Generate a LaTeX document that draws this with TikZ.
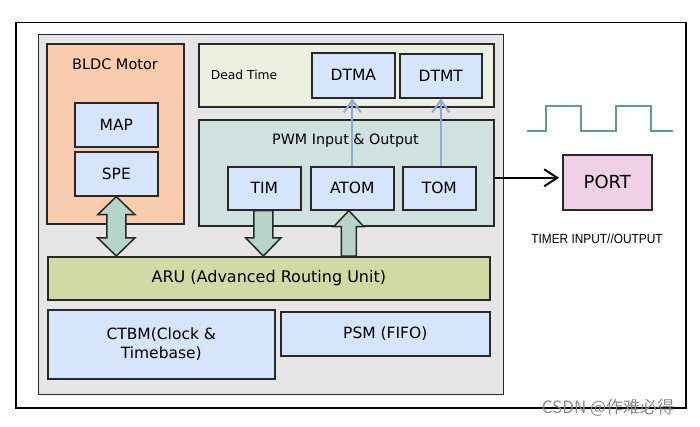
\documentclass[tikz,border=0pt]{standalone}
\usepackage{fontspec}
\setmainfont{DejaVu Sans}
\newfontfamily\arialfont{Liberation Sans}
\newfontfamily\cjkfont{Noto Sans CJK SC}
\usetikzlibrary{arrows.meta,calc}
\definecolor{panelc}{RGB}{230,230,230}
\definecolor{peachc}{RGB}{248,204,173}
\definecolor{deadc}{RGB}{236,240,224}
\definecolor{pwmc}{RGB}{208,226,221}
\definecolor{bluec}{RGB}{212,229,252}
\definecolor{aruc}{RGB}{210,218,164}
\definecolor{portc}{RGB}{240,208,228}
\definecolor{arrowc}{RGB}{182,212,200}
\definecolor{thinbluec}{RGB}{142,170,219}
\definecolor{wavec}{RGB}{94,158,134}
\definecolor{linec}{RGB}{40,40,40}
\begin{document}
\begin{tikzpicture}[x=1pt,y=-1pt,
  cbox/.style={draw=linec, line width=1.6pt, inner sep=0pt, anchor=north west},
  bluebox/.style={cbox, fill=bluec, font=\fontsize{15.5}{19}\selectfont},
  blockarrow/.style={draw=linec, line width=1.5pt, fill=arrowc, line join=miter},
  thinarrow/.style={draw=thinbluec, line width=2pt, -{Straight Barb[length=12pt,width=17pt,line width=2pt]}},
  blackarrow/.style={draw=black, line width=2pt, -{Straight Barb[length=13pt,width=17pt,line width=2pt]}},
  wave/.style={draw=wavec, line width=2pt}]
\useasboundingbox (0,0) rectangle (700,427);
\fill[white] (0,0) rectangle (700,427);
% containers
\node[cbox, draw=black, line width=1.5pt, fill=white, minimum width=670, minimum height=385] (frame) at (15,22) {};
\node[cbox, line width=1.3pt, fill=panelc, minimum width=465, minimum height=360] (panel) at (38,34) {};
\node[cbox, fill=peachc, minimum width=137, minimum height=180] (bldc) at (46,43) {};
\node[font=\fontsize{14.5}{17}\selectfont] (bldclabel) at (115,64) {BLDC Motor};
\node[cbox, fill=deadc, minimum width=295, minimum height=63] (dead) at (198,43) {};
\node[font=\fontsize{12.3}{15}\selectfont] (deadlabel) at (244,75) {Dead Time};
\node[cbox, fill=pwmc, minimum width=295, minimum height=106] (pwm) at (198,119) {};
\node[font=\fontsize{14.3}{17}\selectfont] (pwmlabel) at (345.5,141) {PWM Input \& Output};
% inner boxes
\node[bluebox, minimum width=83, minimum height=44] (map) at (74,102) {MAP};
\node[bluebox, minimum width=83, minimum height=44] (spe) at (74,151) {SPE};
\node[bluebox, minimum width=83, minimum height=45] (dtma) at (311,52) {DTMA};
\node[bluebox, minimum width=82, minimum height=44] (dtmt) at (399,53) {DTMT};
\node[bluebox, minimum width=73, minimum height=43] (tim) at (227,166) {TIM};
\node[bluebox, minimum width=83, minimum height=43] (atom) at (310,166) {ATOM};
\node[bluebox, minimum width=73, minimum height=43] (tom) at (402,166) {TOM};
\node[cbox, fill=aruc, minimum width=442, minimum height=43, font=\fontsize{16}{19}\selectfont] (aru) at (47,256) {ARU (Advanced Routing Unit)};
\node[bluebox, minimum width=227, minimum height=69, align=center, font=\fontsize{15.5}{19}\selectfont] (ctbm) at (47,309) {CTBM(Clock \&\\Timebase)};
\node[bluebox, minimum width=209, minimum height=44] (psm) at (280,311) {PSM (FIFO)};
\node[cbox, fill=portc, minimum width=89, minimum height=55, font=\fontsize{18}{21}\selectfont] (port) at (562,154) {PORT};
\node[font=\arialfont\fontsize{13.2}{15}\selectfont] (timerlabel) at (597,239) {\scalebox{0.9}[1]{TIMER INPUT//OUTPUT}};
% block arrows
\draw[blockarrow] (spe.south) -- ++(18.5,18) -- ++(-9,0)
  -- ($(spe.south|-aru.north)+(9.5,-18)$) -- ++(9,0) -- (spe.south|-aru.north)
  -- ++(-18.5,-18) -- ++(9,0) -- ($(spe.south)+(-9.5,18)$) -- ++(-9,0) -- cycle;
\coordinate (timx) at ($(tim.south)+(-1,0)$);
\draw[blockarrow] ($(timx)+(-9.5,0)$) -- ($(timx)+(9.5,0)$)
  -- ($(timx|-aru.north)+(9.5,-18)$) -- ++(8,0) -- (timx|-aru.north)
  -- ++(-17.5,-18) -- ++(8,0) -- cycle;
\coordinate (upx) at ($(atom.south)+(-3.5,0)$);
\draw[blockarrow] ($(upx|-aru.north)+(-7.5,0)$) -- ($(upx)+(-7.5,16)$) -- ++(-7.5,0)
  -- (upx) -- ++(15,16) -- ++(-7.5,0) -- ($(upx|-aru.north)+(7.5,0)$) -- cycle;
% thin arrows
\draw[thinarrow] (atom.north) -- (atom.north|-dtma.south);
\draw[thinarrow] ($(tom.north)+(1.5,0)$) -- ($(tom.north|-dtmt.south)+(1.5,0)$);
\coordinate (outstart) at ($(pwm.east)+(0,5)$);
\draw[blackarrow, shorten >=3pt] (outstart) -- (outstart-|port.west);
% waveform
\draw[wave] (527,131) -- (546,131) -- (546,106) -- (581,106) -- (581,131) -- (616,131)
  -- (616,106) -- (651,106) -- (651,131) -- (673,131);
% watermark
\node[text=black!45, font=\cjkfont\fontsize{17}{17}\selectfont] (wm) at (608,408) {CSDN @作难必得};
\end{tikzpicture}
\end{document}
